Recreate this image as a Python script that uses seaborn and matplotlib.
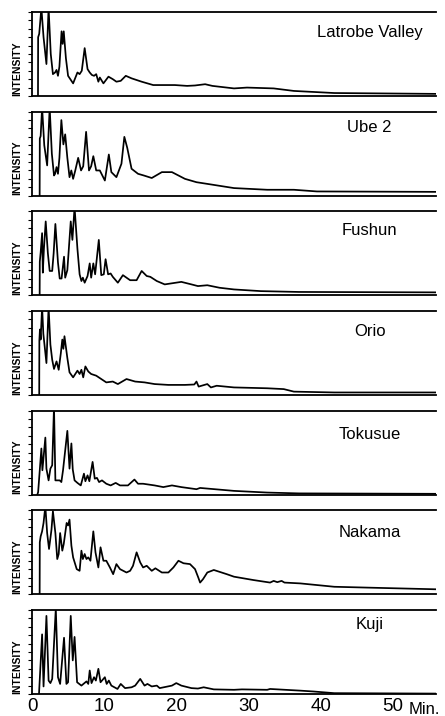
import numpy as np
import pandas as pd
import matplotlib
matplotlib.use('Agg')
import matplotlib.pyplot as plt
import seaborn as sns

sns.set_style('ticks')
plt.rcParams['font.family'] = ['Liberation Sans', 'DejaVu Sans']
plt.rcParams['text.color'] = 'black'
plt.rcParams['xtick.color'] = 'black'
plt.rcParams['ytick.color'] = 'black'

# Retention time (min) / intensity
latrobe_t = [0.83, 0.85, 1.0, 1.3, 1.6, 2.0, 2.3, 2.6, 2.9, 3.2, 3.4, 3.6, 3.8, 4.1, 4.25, 4.4, 4.7, 5.0, 5.7,
             6.3, 6.6, 6.9, 7.3, 7.7, 8.0, 8.3, 8.6, 8.9, 9.2, 9.4, 9.9, 10.6, 11.2, 11.7, 12.3, 13.0, 13.8, 14.5,
             15.2, 16.8, 19.8, 21.5, 22.6, 24.0, 25.0, 28.0, 29.8, 33.5, 36.3, 41.9, 56.0]
latrobe_i = [0, 7.0, 7.4, 10.5, 7.0, 3.8, 10.5, 5.0, 2.6, 2.8, 3.1, 2.4, 3.5, 7.7, 6.2, 7.7, 4.5, 2.4, 1.5,
             2.8, 2.6, 3.0, 5.7, 3.2, 2.8, 2.5, 2.4, 2.6, 1.7, 2.2, 1.5, 2.3, 2.0, 1.7, 1.8, 2.4, 2.1, 1.9,
             1.7, 1.3, 1.3, 1.2, 1.25, 1.4, 1.2, 0.9, 1.0, 0.9, 0.6, 0.35, 0.25]

ube_t = [1.06, 1.08, 1.2, 1.4, 1.7, 2.1, 2.45, 2.75, 3.05, 3.2, 3.4, 3.6, 3.8, 4.07, 4.35, 4.6, 4.9, 5.2, 5.45,
         5.7, 6.0, 6.4, 6.8, 7.1, 7.5, 7.9, 8.2, 8.5, 8.9, 9.4, 10.1, 10.65, 11.0, 11.7, 12.4, 12.8, 13.2, 13.8,
         14.7, 15.5, 16.6, 18.0, 19.4, 21.2, 22.8, 24.3, 28.0, 32.6, 36.3, 39.5, 56.0]
ube_i = [0, 6.8, 7.1, 10.5, 6.0, 3.6, 10.5, 5.0, 2.4, 2.6, 3.4, 2.6, 4.5, 9.0, 6.1, 7.3, 4.5, 2.2, 3.0,
         2.0, 3.0, 4.5, 3.0, 3.5, 7.6, 3.0, 3.5, 4.7, 3.0, 3.0, 1.8, 4.9, 2.8, 2.2, 3.8, 7.0, 5.7, 3.2,
         2.6, 2.4, 2.1, 2.8, 2.8, 2.0, 1.6, 1.4, 0.9, 0.7, 0.7, 0.5, 0.45]

fushun_t = [1.06, 1.08, 1.2, 1.4, 1.5, 1.65, 1.9, 2.2, 2.45, 2.8, 3.0, 3.24, 3.6, 3.84, 4.1, 4.44, 4.6, 4.9,
            5.37, 5.6, 5.9, 6.3, 6.6, 6.85, 7.05, 7.3, 7.7, 8.0, 8.2, 8.5, 8.75, 9.26, 9.6, 9.95, 10.2, 10.55,
            10.9, 11.2, 11.9, 12.6, 13.6, 14.5, 15.2, 15.9, 16.4, 17.3, 18.4, 20.7, 22.1, 23.0, 24.3, 26.0,
            28.0, 31.7, 37.0, 56.0]
fushun_i = [0, 4.0, 5.1, 7.4, 2.7, 5.5, 8.8, 5.0, 2.9, 2.9, 5.0, 8.5, 3.9, 2.0, 2.0, 4.6, 2.1, 3.0,
            8.8, 6.6, 10.5, 5.5, 2.5, 1.7, 2.1, 1.5, 2.3, 3.8, 2.1, 3.8, 2.5, 6.6, 2.4, 2.5, 4.3, 2.5,
            2.6, 2.2, 1.5, 2.4, 1.8, 1.8, 2.9, 2.3, 2.2, 1.7, 1.3, 1.6, 1.3, 1.1, 1.2, 0.9,
            0.7, 0.5, 0.4, 0.35]

orio_t = [1.0, 1.02, 1.1, 1.2, 1.4, 1.57, 2.0, 2.3, 2.55, 2.8, 3.05, 3.4, 3.7, 4.0, 4.2, 4.35, 4.5, 4.9, 5.2,
          5.7, 6.3, 6.6, 6.85, 7.1, 7.4, 7.8, 8.2, 8.9, 9.6, 10.3, 11.2, 11.9, 13.1, 14.3, 15.6, 17.0, 18.9,
          21.2, 22.5, 22.8, 23.1, 24.3, 24.8, 25.6, 28.0, 32.6, 34.9, 36.3, 41.9, 56.0]
orio_i = [0, 6.5, 7.8, 6.6, 10.5, 7.3, 3.8, 10.5, 6.0, 4.2, 3.1, 4.0, 3.0, 5.0, 6.6, 5.5, 7.0, 4.4, 2.7,
          2.1, 2.9, 2.5, 3.0, 2.1, 3.4, 2.8, 2.5, 2.3, 1.9, 1.5, 1.6, 1.3, 1.9, 1.6, 1.5, 1.3, 1.2,
          1.2, 1.25, 1.6, 1.0, 1.3, 0.9, 1.1, 0.9, 0.8, 0.7, 0.4, 0.3, 0.3]

tokusue_t = [0.74, 0.85, 1.3, 1.44, 1.85, 2.0, 2.3, 2.55, 2.8, 3.05, 3.24, 3.84, 4.07, 4.3, 4.9, 5.2, 5.46,
             5.65, 5.9, 6.3, 6.76, 7.2, 7.4, 7.7, 7.95, 8.4, 8.7, 9.0, 9.3, 9.7, 10.3, 10.9, 11.6, 12.2, 13.3,
             14.2, 14.7, 15.4, 17.0, 18.2, 19.4, 20.7, 22.8, 23.3, 28.0, 32.6, 37.0, 56.0]
tokusue_i = [0, 0.3, 5.5, 2.9, 6.8, 3.1, 1.7, 3.1, 3.5, 10.5, 1.7, 1.7, 1.5, 2.9, 7.6, 3.1, 6.1,
             3.0, 1.7, 1.4, 1.1, 2.5, 1.6, 2.3, 1.6, 3.9, 1.9, 2.0, 1.5, 1.7, 1.3, 1.1, 1.4, 1.1, 1.1,
             1.8, 1.3, 1.3, 1.1, 0.9, 1.1, 0.9, 0.65, 0.8, 0.45, 0.25, 0.15, 0.1]

nakama_t = [1.06, 1.08, 1.2, 1.4, 1.6, 1.85, 2.1, 2.36, 2.7, 2.9, 3.24, 3.5, 3.7, 3.9, 4.2, 4.4, 4.8, 5.0,
            5.2, 5.46, 5.7, 6.2, 6.6, 6.85, 7.05, 7.3, 7.55, 7.8, 8.1, 8.5, 8.8, 9.2, 9.5, 9.9, 10.3, 10.8,
            11.25, 11.7, 12.2, 13.1, 13.6, 14.0, 14.5, 15.0, 15.4, 15.9, 16.6, 17.1, 18.0, 18.9, 19.6, 20.3,
            21.0, 21.9, 22.6, 23.05, 23.3, 23.7, 24.3, 25.2, 27.0, 28.0, 30.7, 33.0, 33.5, 34.0, 34.6, 35.0,
            37.2, 41.9, 46.5, 56.0]
nakama_i = [0, 6.2, 6.9, 7.5, 8.5, 10.5, 7.3, 5.4, 7.7, 9.9, 7.3, 4.2, 4.8, 7.3, 5.2, 6.0, 8.5, 8.2,
            8.9, 5.8, 4.4, 3.0, 2.8, 5.2, 4.2, 4.8, 4.2, 4.4, 4.0, 7.5, 5.0, 3.2, 5.6, 4.0, 4.0, 3.2,
            2.4, 3.6, 3.0, 2.6, 2.8, 3.4, 5.0, 3.8, 3.2, 3.4, 2.8, 3.1, 2.6, 2.6, 3.2, 4.0,
            3.7, 3.6, 3.0, 2.0, 1.4, 1.8, 2.6, 2.9, 2.4, 2.1, 1.7, 1.4, 1.6, 1.45, 1.6, 1.4,
            1.3, 0.9, 0.8, 0.6]

kuji_t = [0.97, 1.4, 1.6, 2.0, 2.3, 2.55, 2.8, 3.3, 3.6, 3.9, 4.44, 4.77, 5.0, 5.37, 5.65, 5.9, 6.25, 6.85,
          7.55, 7.8, 8.0, 8.25, 8.6, 8.85, 9.2, 9.5, 10.1, 10.35, 10.65, 11.0, 11.85, 12.3, 12.9, 13.8, 14.3,
          15.0, 15.6, 16.0, 16.6, 17.3, 17.7, 19.4, 20.0, 20.7, 22.1, 23.0, 23.8, 25.2, 28.0, 29.1, 32.6,
          33.0, 37.2, 39.0, 41.9, 56.0]
kuji_i = [0, 7.1, 0.9, 9.3, 1.6, 1.3, 1.8, 10.2, 2.0, 1.2, 6.7, 1.2, 1.4, 9.3, 4.0, 6.8, 1.4, 1.0,
          1.5, 1.2, 2.8, 1.3, 2.0, 1.6, 3.0, 1.4, 2.0, 1.2, 1.6, 1.0, 0.6, 1.2, 0.7, 0.8, 1.0,
          1.8, 1.0, 1.2, 0.9, 1.0, 0.7, 1.0, 1.3, 1.0, 0.7, 0.65, 0.8, 0.55, 0.5, 0.55, 0.5,
          0.6, 0.4, 0.3, 0.1, 0.05]

names = ['Latrobe Valley', 'Ube 2', 'Fushun', 'Orio', 'Tokusue', 'Nakama', 'Kuji']
series = [(latrobe_t, latrobe_i), (ube_t, ube_i), (fushun_t, fushun_i), (orio_t, orio_i),
          (tokusue_t, tokusue_i), (nakama_t, nakama_i), (kuji_t, kuji_i)]
name_y = [0.75, 0.81, 0.77, 0.76, 0.72, 0.74, 0.83]
x_ticks = [0, 10, 20, 30, 40, 50]

fig, axes = plt.subplots(7, 1, figsize=(4.45, 7.16), dpi=100, sharex=True)
fig.subplots_adjust(left=32/445, right=436/445, top=1 - 12/716, bottom=22/716, hspace=0.187)

for ax, name, (t, inten), ny in zip(axes, names, series, name_y):
    df = pd.DataFrame({'t': t, 'i': inten})
    sns.lineplot(data=df, x='t', y='i', ax=ax, color='black', linewidth=1.25,
                 estimator=None, sort=False)
    ax.set_xlim(0, 56)
    ax.set_ylim(0, 10)
    ax.set_yticks(np.arange(0, 11, 1))
    ax.set_yticklabels([])
    ax.tick_params(axis='y', direction='out', length=3, width=0.8, color='black')
    ax.tick_params(axis='x', length=0)
    ax.set_xlabel('')
    ax.set_ylabel('')
    for side in ['top', 'left', 'bottom']:
        ax.spines[side].set_visible(True)
        ax.spines[side].set_linewidth(1.3)
        ax.spines[side].set_color('black')
    ax.spines['right'].set_visible(False)
    ax.text(0.836, ny, name, transform=ax.transAxes, ha='center', va='center',
            fontsize=12, color='black')
    ax.text(-0.037, 0.33, 'INTENSITY', transform=ax.transAxes, rotation=90,
            ha='center', va='center', fontsize=7.5, fontweight='bold', color='black')

axes[-1].set_xticks(x_ticks)
axes[-1].set_xticklabels([str(v) for v in x_ticks], fontsize=13.5)
axes[-1].tick_params(axis='x', length=0, pad=3)
fig.text(440/445, 1 - 709/716, 'Min.', ha='right', va='center', fontsize=12, color='black')

fig.savefig('out.png', dpi=100)
